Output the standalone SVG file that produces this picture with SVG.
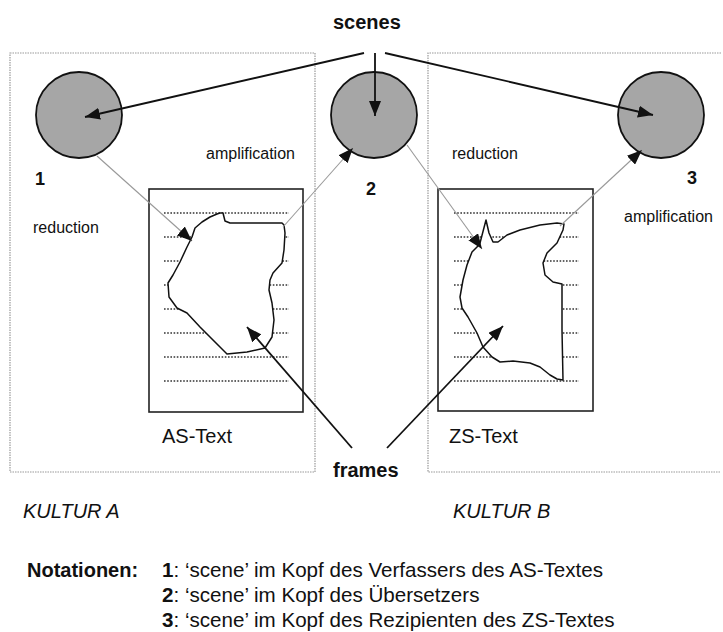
<svg xmlns="http://www.w3.org/2000/svg" width="723" height="632" viewBox="0 0 723 632">
<style>
text{font-family:"Liberation Sans",Arial,sans-serif;fill:#111}
.b{font-weight:bold}
.lbl{font-size:16px}
.num{font-size:18px;font-weight:bold}
.big{font-size:20px}
.note{font-size:20.6px}
.it{font-style:italic}
.culture{fill:none;stroke:#999;stroke-width:1.2;stroke-dasharray:1.5 1}
.scene{fill:#a6a6a6;stroke:#111;stroke-width:1.8}
.doc{fill:#fff;stroke:#222;stroke-width:1.6}
.rule{stroke:#333;stroke-width:1.3;stroke-dasharray:1.6 1.6}
.blob{fill:#fff;stroke:#111;stroke-width:1.5;stroke-linejoin:round}
.strong{stroke:#111;stroke-width:1.8;fill:none}
.thin{stroke:#999;stroke-width:1.1;fill:none}
</style>
<defs>
<marker id="ah" markerUnits="userSpaceOnUse" markerWidth="15" markerHeight="12" refX="15" refY="6" orient="auto">
<path d="M0,0 L15,6 L0,12 z" fill="#111"/>
</marker>
</defs>

<g id="kultur-a">
<rect class="culture" x="10" y="53" width="305" height="419"/>
<text class="big it" x="23" y="518">KULTUR A</text>
</g>
<g id="kultur-b">
<path class="culture" d="M721,53 H428 V472 H721"/>
<text class="big it" x="453" y="518">KULTUR B</text>
</g>

<g id="scene-1">
<circle class="scene" cx="79" cy="115" r="43"/>
<text class="num" x="35" y="185">1</text>
</g>
<g id="scene-2">
<circle class="scene" cx="374" cy="115" r="43"/>
<text class="num" x="366" y="195">2</text>
</g>
<g id="scene-3">
<circle class="scene" cx="661" cy="115" r="43"/>
<text class="num" x="687" y="184">3</text>
</g>

<g id="as-text">
<rect class="doc" x="149" y="189" width="154" height="223"/>
<g>
<line class="rule" x1="164" y1="213" x2="289" y2="213"/>
<line class="rule" x1="164" y1="237" x2="289" y2="237"/>
<line class="rule" x1="164" y1="261" x2="289" y2="261"/>
<line class="rule" x1="164" y1="285" x2="289" y2="285"/>
<line class="rule" x1="164" y1="309" x2="289" y2="309"/>
<line class="rule" x1="164" y1="333" x2="289" y2="333"/>
<line class="rule" x1="164" y1="357" x2="289" y2="357"/>
<line class="rule" x1="164" y1="381" x2="289" y2="381"/>
</g>
<path class="blob" d="M220,213 L223,213 L225,221 L230,223 L257,223 L282,223 L284,225 L285,233 L284,250 L282,263 L273,273 L270,280 L269,290 L272,303 L274,320 L272,337 L265,348 L247,352 L227,354 L220,347 L210,337 L200,327 L187,313 L177,308 L169,297 L168,283 L173,275 L180,262 L187,247 L192,237 L195,228 L202,222 L210,217 L217,214 Z"/>
<text class="big" x="162" y="443">AS-Text</text>
</g>

<g id="zs-text">
<rect class="doc" x="438" y="189" width="155" height="222"/>
<g>
<line class="rule" x1="454" y1="213" x2="579" y2="213"/>
<line class="rule" x1="454" y1="237" x2="579" y2="237"/>
<line class="rule" x1="454" y1="261" x2="579" y2="261"/>
<line class="rule" x1="454" y1="285" x2="579" y2="285"/>
<line class="rule" x1="454" y1="309" x2="579" y2="309"/>
<line class="rule" x1="454" y1="333" x2="579" y2="333"/>
<line class="rule" x1="454" y1="357" x2="579" y2="357"/>
<line class="rule" x1="454" y1="381" x2="579" y2="381"/>
</g>
<path class="blob" d="M480,243 L486,220 L489,233 L493,242 L498,242 L507,235 L520,230 L540,225 L557,223 L564,224 L563,230 L557,243 L547,253 L543,263 L545,275 L553,282 L562,284 L562,330 L563,380 L557,379 L550,375 L540,367 L530,363 L513,361 L500,362 L492,357 L483,347 L477,333 L468,317 L462,308 L460,297 L463,280 L467,265 L472,252 L477,247 Z"/>
<text class="big" x="449" y="443">ZS-Text</text>
</g>

<g id="scenes-label">
<text class="big b" x="333" y="29">scenes</text>
</g>
<g id="frames-label">
<text class="big b" x="333" y="477">frames</text>
</g>

<g id="labels">
<text class="lbl" x="206" y="159">amplification</text>
<text class="lbl" x="33" y="233">reduction</text>
<text class="lbl" x="452" y="159">reduction</text>
<text class="lbl" x="624" y="222">amplification</text>
</g>

<g id="connectors">
<line class="strong" x1="364" y1="53" x2="85" y2="117" marker-end="url(#ah)"/>
<line class="strong" x1="375" y1="53" x2="375" y2="116" marker-end="url(#ah)"/>
<line class="strong" x1="385" y1="53" x2="653" y2="115" marker-end="url(#ah)"/>
<line class="thin" x1="97" y1="156" x2="192" y2="241" marker-end="url(#ah)"/>
<line class="thin" x1="283" y1="227" x2="353" y2="148" marker-end="url(#ah)"/>
<line class="thin" x1="407" y1="145" x2="482" y2="249" marker-end="url(#ah)"/>
<line class="thin" x1="560" y1="226" x2="642" y2="150" marker-end="url(#ah)"/>
<line class="strong" x1="352" y1="448" x2="247" y2="327" marker-end="url(#ah)"/>
<line class="strong" x1="387" y1="448" x2="503" y2="326" marker-end="url(#ah)"/>
</g>

<g id="notation">
<text class="big b" x="27" y="577">Notationen:</text>
<text class="note" x="162" y="577"><tspan class="b">1</tspan>: ‘scene’ im Kopf des Verfassers des AS-Textes</text>
<text class="note" x="162" y="602"><tspan class="b">2</tspan>: ‘scene’ im Kopf des Übersetzers</text>
<text class="note" x="162" y="627"><tspan class="b">3</tspan>: ‘scene’ im Kopf des Rezipienten des ZS-Textes</text>
</g>
</svg>
